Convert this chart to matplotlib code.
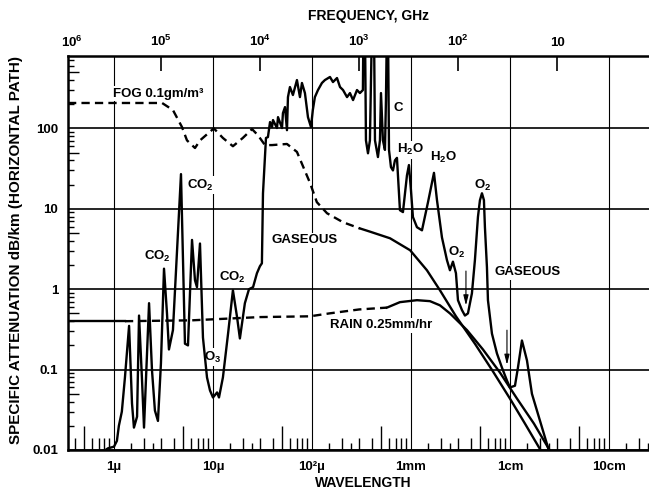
import numpy as np
import matplotlib
matplotlib.use('agg')
import matplotlib.pyplot as plt
from matplotlib.ticker import NullLocator, NullFormatter, FixedLocator

plt.rcParams['font.family'] = ['Liberation Sans', 'DejaVu Sans']
plt.rcParams['font.weight'] = 'bold'
plt.rcParams['axes.labelweight'] = 'bold'
plt.rcParams['mathtext.fontset'] = 'custom'
plt.rcParams['mathtext.rm'] = 'Liberation Sans:bold'
plt.rcParams['mathtext.it'] = 'Liberation Sans:bold'
plt.rcParams['mathtext.bf'] = 'Liberation Sans:bold'
plt.rcParams['mathtext.default'] = 'rm'

# wavelength in micrometres, attenuation in dB/km
gas_lam = [0.80, 0.87, 1.0, 1.07, 1.12, 1.20, 1.29, 1.42, 1.52, 1.59,
           1.71, 1.79, 1.92, 2.01, 2.10, 2.26, 2.42, 2.59, 2.78, 2.98,
           3.20, 3.43, 3.59, 3.94, 4.75, 5.21, 5.59, 6.14, 6.58, 6.89,
           7.39, 7.92, 8.70, 9.33, 10.0, 11.0, 11.5, 12.6, 14.2, 15.9,
           17.5, 18.7, 21.0, 23.1, 25.4, 27.8, 29.8, 31.2, 32.0, 34.3,
           35.9, 37.7, 39.5, 40.4, 44.3, 45.4, 49.8, 50.9, 53.4, 55.9,
           57.2, 59.9, 64.2, 70.5, 75.6, 79.2, 84.9, 91.1, 97.7, 102,
           107, 115, 126, 135, 152, 163, 179, 192, 206, 226,
           242, 260, 285, 305, 327, 331, 343, 351, 368, 385,
           404, 423, 433, 464, 486, 498, 521, 546, 559, 572,
           586, 600, 628, 658, 689, 722, 774, 830, 911, 954,
           1000, 1047, 1150, 1292, 1485, 1708, 1832, 2057, 2310, 2477,
           2655, 2848, 2985, 3275, 3511, 3765, 4130, 4427, 4750, 4977,
           5215, 5460, 5588, 5857, 5995, 6580, 7389, 8300, 9330, 10000,
           11240, 12050, 13220, 14860, 16680, 18740, 21540, 24770]
gas_att = [0.0098, 0.0105, 0.011, 0.013, 0.02, 0.03, 0.08, 0.35, 0.038, 0.019,
           0.026, 0.47, 0.073, 0.019, 0.073, 0.67, 0.098, 0.031, 0.023, 0.12,
           1.8, 0.50, 0.178, 0.31, 27, 0.21, 0.20, 4.1, 1.29, 1.06,
           3.7, 0.25, 0.08, 0.055, 0.045, 0.052, 0.045, 0.08, 0.28, 0.97,
           0.45, 0.244, 0.67, 1.0, 1.06, 1.58, 1.93, 2.1, 15.6, 76,
           78, 120, 104, 127, 101, 138, 101, 155, 184, 95,
           245, 327, 260, 399, 245, 367, 275, 138, 104, 169,
           245, 300, 367, 399, 436, 377, 423, 327, 300, 245,
           275, 225, 300, 275, 300, 2000, 2000, 71, 49, 71,
           2000, 2000, 71, 44, 71, 275, 71, 54, 225, 2000,
           2000, 54, 33, 30, 40, 43, 9.6, 9.1, 26, 35,
           17, 7.9, 5.9, 5.4, 12, 28, 12.8, 4.4, 2.3, 1.72,
           2.2, 1.58, 0.73, 0.55, 0.47, 0.50, 0.89, 2.3, 7.9, 12.8,
           15.6, 12.8, 5.9, 1.87, 0.73, 0.28, 0.159, 0.106, 0.073, 0.060,
           0.063, 0.106, 0.23, 0.13, 0.050, 0.031, 0.0174, 0.0098]

fog_lam = [0.343, 3.06, 3.94, 4.86, 5.46, 6.58, 7.4, 10.2, 12.6, 15.9,
           20.0, 24.8, 28.5, 33.5, 39.5, 55.9, 70.5, 95.5, 112, 142,
           206, 305, 385, 614, 981, 1450, 1963, 2848, 4427, 6734,
           10000, 14180, 20560]
fog_att = [207, 207, 169, 104, 71, 57, 71, 100, 76, 60,
           76, 98, 82, 62, 62, 64, 51, 21, 12.1, 8.8,
           6.8, 5.7, 5.2, 4.3, 3.05, 1.72, 0.97, 0.46, 0.21, 0.095,
           0.0436, 0.0213, 0.0098]
fog_dash_end = 305

rain_lam = [0.343, 1.29, 6.1, 29.8, 95.5, 150, 300, 572, 774, 1150,
            1556, 1963, 2477, 3680, 5337, 7921, 11780, 17470, 25350]
rain_att = [0.40, 0.40, 0.41, 0.45, 0.46, 0.50, 0.56, 0.59, 0.69, 0.73,
            0.71, 0.63, 0.50, 0.31, 0.178, 0.092, 0.0436, 0.0213, 0.0098]
rain_dash = (1.29, 572)

wl_ticks = [1, 10, 100, 1e3, 1e4, 1e5]
wl_labels = ['1µ', '10µ', '10²µ', '1mm', '1cm', '10cm']
freq_ticks = [1e5, 1e4, 1e3, 1e2, 10]
freq_labels = ['$10^5$', '$10^4$', '$10^3$', '$10^2$', '10']
att_ticks = [0.01, 0.1, 1, 10, 100]
att_labels = ['0.01', '0.1', '1', '10', '100']


def lam_to_ghz(x):
    x = np.asarray(x, dtype=float)
    with np.errstate(divide='ignore'):
        return 3e5 / x


fig = plt.figure(figsize=(6.49, 4.96), dpi=100)
ax = fig.add_axes([68 / 649, 46 / 496, 581 / 649, 394 / 496])
ax.set_xscale('log')
ax.set_yscale('log')
ax.set_xlim(0.343, 2.54e5)
ax.set_ylim(0.01, 795)
ax.set_axisbelow(True)

lw = 1.7
dash = (0, (3.5, 2.2))

# gaseous absorption
ax.plot(gas_lam, gas_att, color='k', lw=lw, solid_joinstyle='round', zorder=3)

# fog: dashed through the infrared, solid at millimetre wavelengths
fl = np.array(fog_lam)
fa = np.array(fog_att)
m = fl <= fog_dash_end
ax.plot(fl[m], fa[m], color='k', lw=lw, linestyle=dash, zorder=3)
m = fl >= fog_dash_end
ax.plot(fl[m], fa[m], color='k', lw=lw, zorder=3)

# rain
rl = np.array(rain_lam)
ra = np.array(rain_att)
m = rl <= rain_dash[0]
ax.plot(rl[m], ra[m], color='k', lw=lw, zorder=3)
m = (rl >= rain_dash[0]) & (rl <= rain_dash[1])
ax.plot(rl[m], ra[m], color='k', lw=lw, linestyle=dash, zorder=3)
m = rl >= rain_dash[1]
ax.plot(rl[m], ra[m], color='k', lw=lw, zorder=3)

# arrows marking the atmospheric windows
arrow = dict(arrowstyle='-|>,head_length=0.6,head_width=0.15', color='k', lw=0.8)
ax.annotate('', xy=(3594, 0.58), xytext=(3594, 1.82), arrowprops=arrow, zorder=4)
ax.annotate('', xy=(9330, 0.106), xytext=(9330, 0.335), arrowprops=arrow, zorder=4)

# curve labels
box = dict(facecolor='white', edgecolor='none', pad=1.0)
lab = dict(fontsize=9.5, ha='center', va='center', zorder=2, bbox=box)
ax.text(0.98, 270, 'FOG 0.1gm/m³', **{**lab, 'ha': 'left'})
ax.text(85, 4.06, 'GASEOUS', **lab)
ax.text(15200, 1.62, 'GASEOUS', **lab)
ax.text(498, 0.355, 'RAIN 0.25mm/hr', **lab)
ax.text(739, 179, 'C', **lab)
ax.text(981, 54, 'H$_2$O', **lab)
ax.text(2105, 43, 'H$_2$O', **lab)
ax.text(5337, 19.7, 'O$_2$', **lab)
ax.text(2916, 2.9, 'O$_2$', **lab)
ax.text(2.72, 2.57, 'CO$_2$', **lab)
ax.text(15.6, 1.41, 'CO$_2$', **lab)
ax.text(7.39, 19.7, 'CO$_2$', **lab)
ax.text(10.0, 0.142, 'O$_3$', **lab)

# frame
for side in ('left', 'top', 'bottom'):
    ax.spines[side].set_linewidth(1.8)
ax.spines['right'].set_visible(False)

# bottom wavelength axis
ax.set_xticks(wl_ticks, wl_labels)
ax.xaxis.set_minor_locator(FixedLocator(
    [m_ * 10.0 ** k for k in range(-1, 6) for m_ in (2, 3, 4, 6, 7, 8, 9)]))
ax.xaxis.set_minor_formatter(NullFormatter())
ax.tick_params(axis='x', which='major', length=0, pad=8, labelsize=9.5)
ax.tick_params(axis='x', which='minor', direction='in', length=9, width=1,
               top=False)
ax.grid(axis='x', which='major', color='k', lw=0.8)

for subs, length in (((5,), 17), ((1.5, 2.5), 5)):
    sec = ax.secondary_xaxis('bottom')
    sec.set_xticks([s * 10.0 ** k for k in range(-1, 6) for s in subs])
    sec.xaxis.set_major_formatter(NullFormatter())
    sec.xaxis.set_minor_locator(NullLocator())
    sec.tick_params(direction='in', length=length, width=1)
    sec.spines['bottom'].set_visible(False)

# left attenuation axis
ax.set_yticks(att_ticks, att_labels)
ax.yaxis.set_minor_locator(FixedLocator(
    [m_ * 10.0 ** k for k in range(-2, 3) for m_ in (2, 3, 4, 6, 7, 8, 9)]))
ax.yaxis.set_minor_formatter(NullFormatter())
ax.tick_params(axis='y', which='major', length=0, pad=7, labelsize=9.5)
ax.tick_params(axis='y', which='minor', direction='in', length=4, width=1)
ax.grid(axis='y', which='major', color='k', lw=1.2)

sec = ax.secondary_yaxis('left')
sec.set_yticks([5 * 10.0 ** k for k in range(-2, 3)])
sec.yaxis.set_major_formatter(NullFormatter())
sec.yaxis.set_minor_locator(NullLocator())
sec.tick_params(direction='in', length=8, width=1)
sec.spines['left'].set_visible(False)

# top frequency axis
top = ax.secondary_xaxis('top', functions=(lam_to_ghz, lam_to_ghz))
top.set_xticks(freq_ticks, freq_labels)
top.xaxis.set_minor_locator(NullLocator())
top.tick_params(direction='in', length=11, width=1.2, pad=5, labelsize=9.5)
top.spines['top'].set_visible(False)
ax.text(0.007, 1.016, '$10^6$', transform=ax.transAxes, ha='center',
        va='bottom', fontsize=9.5)

fig.text(369 / 649, 1 - 16 / 496, 'FREQUENCY, GHz', ha='center', va='center',
         fontsize=10, fontweight='bold')
fig.text(363 / 649, 1 - 483 / 496, 'WAVELENGTH', ha='center', va='center',
         fontsize=10, fontweight='bold')
ax.set_ylabel('SPECIFIC ATTENUATION dB/km (HORIZONTAL PATH)', fontsize=11)
ax.yaxis.set_label_coords(-0.077, 0.508)

fig.savefig('out.png', dpi=100)
